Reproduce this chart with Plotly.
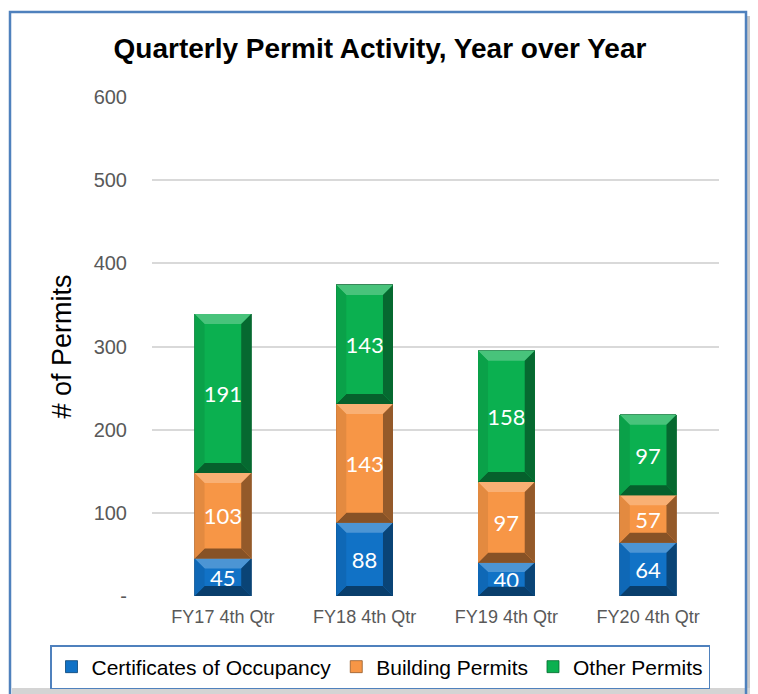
import plotly.graph_objects as go

categories = ["FY17 4th Qtr", "FY18 4th Qtr", "FY19 4th Qtr", "FY20 4th Qtr"]
certificates = [45, 88, 40, 64]
building = [103, 143, 97, 57]
other = [191, 143, 158, 97]
series_names = ["Certificates of Occupancy", "Building Permits", "Other Permits"]
y_ticks = [0, 100, 200, 300, 400, 500, 600]
y_ticktext = ["-", "100", "200", "300", "400", "500", "600"]

colors = ["#1172C6", "#F79646", "#0BB050"]

OFF = 8  # page body margin
W, H = 750, 686
L, R, T, B = 144, 39, 89, 98
pw, ph = W - L - R, H - T - B
YMAX = 600
BW = 0.4
FONT = "Liberation Sans, Arial, sans-serif"

def shade(hexc, f):
    r, g, b = int(hexc[1:3], 16), int(hexc[3:5], 16), int(hexc[5:7], 16)
    if f >= 0:
        r, g, b = [int(c + (255 - c) * f) for c in (r, g, b)]
    else:
        r, g, b = [int(c * (1 + f)) for c in (r, g, b)]
    return f"rgb({r},{g},{b})"

fig = go.Figure()
xs = list(range(len(categories)))
series = [certificates, building, other]
for name, vals, col in zip(series_names, series, colors):
    fig.add_trace(go.Bar(
        x=xs, y=vals, name=name, width=BW,
        marker=dict(color=col, line=dict(color=shade(col, -0.4), width=0.8)),
        text=[str(v) for v in vals], textposition="inside", textangle=0,
        insidetextanchor="middle", constraintext="none",
        textfont=dict(family="Lato, Open Sans, sans-serif", size=22, color="white"),
    ))

# bevel shapes derived from the data
shapes = []
dx = 10 / (pw / len(categories))
for i in xs:
    base = 0
    for vals, col in zip(series, colors):
        v = vals[i]
        y0, y1 = base, base + v
        base = y1
        dyp = min(10, v * ph / YMAX * 0.28)
        dy = dyp * YMAX / ph
        x0, x1 = i - BW / 2, i + BW / 2
        ix0, ix1 = x0 + dx, x1 - dx
        iy0, iy1 = y0 + dy, y1 - dy
        polys = [
            ([(x0, y1), (x1, y1), (ix1, iy1), (ix0, iy1)], shade(col, 0.25)),
            ([(x0, y0), (x1, y0), (ix1, iy0), (ix0, iy0)], shade(col, -0.45)),
            ([(x0, y0), (x0, y1), (ix0, iy1), (ix0, iy0)], shade(col, -0.08)),
            ([(x1, y0), (x1, y1), (ix1, iy1), (ix1, iy0)], shade(col, -0.4)),
        ]
        for pts, c in polys:
            path = "M " + " L ".join(f"{px},{py}" for px, py in pts) + " Z"
            shapes.append(dict(type="path", path=path, xref="x", yref="y",
                               fillcolor=c, line=dict(width=0), layer="above"))

def px2x(p):
    return (p - OFF - L) / pw

def py2y(p):
    return (H - B - (p - OFF)) / ph

# frame shadow and border
shapes.append(dict(type="rect", xref="paper", yref="paper",
                   x0=px2x(747), x1=px2x(754), y0=py2y(690), y1=py2y(16),
                   fillcolor="#C8C8C8", line=dict(width=0), layer="below"))
shapes.append(dict(type="rect", xref="paper", yref="paper",
                   x0=px2x(12), x1=px2x(754), y0=py2y(694), y1=py2y(688),
                   fillcolor="#D4D4D4", line=dict(width=0), layer="below"))
shapes.append(dict(type="rect", xref="paper", yref="paper",
                   x0=px2x(10), x1=px2x(746), y0=py2y(700), y1=py2y(12),
                   fillcolor="rgba(0,0,0,0)", line=dict(color="#4F81BD", width=2.5),
                   layer="below"))

fig.update_layout(
    width=W, height=H,
    margin=dict(l=L, r=R, t=T, b=B, autoexpand=False),
    paper_bgcolor="white", plot_bgcolor="white",
    barmode="stack",
    title=dict(text="<b>Quarterly Permit Activity, Year over Year</b>",
               x=px2x(380), xref="paper", xanchor="center",
               y=1 - (48 - OFF) / H, yanchor="middle",
               font=dict(family=FONT, size=28, color="black")),
    xaxis=dict(tickvals=xs, ticktext=categories, range=[-0.5, len(categories) - 0.5],
               showgrid=False, zeroline=False, showline=False,
               tickfont=dict(family=FONT, size=18, color="#595959"),
               ticklabelstandoff=8),
    yaxis=dict(range=[0, YMAX], tickvals=y_ticks, ticktext=y_ticktext,
               showgrid=True, gridcolor="#D9D9D9", gridwidth=1.5,
               zeroline=False, showline=False,
               tickfont=dict(family=FONT, size=20, color="#595959"),
               ticklabelstandoff=24,
               title=dict(text="# of Permits", standoff=14,
                          font=dict(family=FONT, size=27, color="black"))),
    legend=dict(orientation="h", xref="paper", yref="paper",
                x=px2x(50), xanchor="left",
                y=py2y(645), yanchor="top",
                bordercolor="#4F81BD", borderwidth=1.5, bgcolor="white",
                font=dict(family=FONT, size=21, color="black"),
                itemwidth=30, tracegroupgap=0, traceorder="normal"),
    shapes=shapes,
    showlegend=True,
)

fig.write_html("out.html")
